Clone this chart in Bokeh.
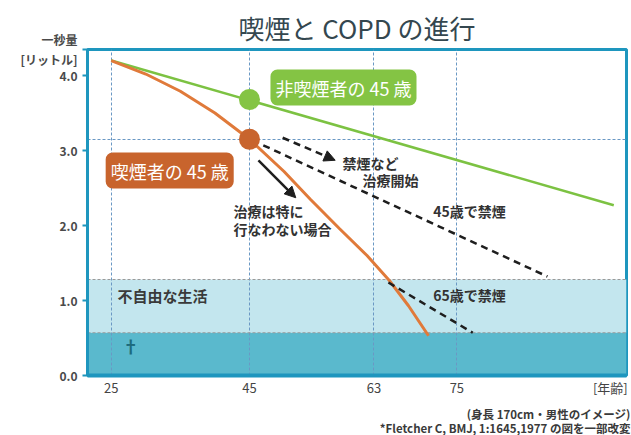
from bokeh.plotting import figure
from bokeh.models import (Label, Span, BoxAnnotation, Arrow, NormalHead,
                          FixedTicker, Range1d, Title)
from bokeh.embed import file_html
from bokeh.resources import INLINE

# ---------------- data ----------------
title_text = "喫煙と COPD の進行"
y_header = "一秒量\n[リットル]"
x_ticks = [25, 45, 63, 75]
x_tick_labels = ["25", "45", "63", "75"]
x_unit_label = "[年齢]"
y_ticks = [0, 1, 2, 3, 4]
y_tick_labels = ["0.0", "1.0", "2.0", "3.0", "4.0"]
notes_below = ["(身長 170cm・男性のイメージ)",
               "*Fletcher C, BMJ, 1:1645,1977 の図を一部改変"]

nonsmoker_age = [25, 97.7]
nonsmoker_fev1 = [4.2, 2.27]

smoker_age = [25, 30, 35, 40, 45, 50, 53.8, 58, 62, 65.2, 68, 70.9]
smoker_fev1 = [4.2, 4.02, 3.79, 3.5, 3.15, 2.72, 2.35, 1.96, 1.6, 1.27, 0.93, 0.53]

quit45_age = [47.0, 88.1]
quit45_fev1 = [3.07, 1.32]
quit65_age = [65.1, 77.3]
quit65_fev1 = [1.24, 0.57]

marker_age = [45, 45]
marker_fev1 = [3.68, 3.15]
marker_labels = ["非喫煙者の 45 歳", "喫煙者の 45 歳"]

disabled_level = 1.28   # 不自由な生活
death_level = 0.57      # †
smoker45_level = 3.15

FONT = "Noto Sans CJK JP"
TEAL = "#1e96be"
GREEN = "#7cc242"
GREEN_BOX = "#84c444"
ORANGE = "#e07a3a"
ORANGE_DARK = "#c8642d"
DARK = "#333333"
DASH_BLACK = "#1e1e1e"

Y_TOP = 4.347
p = figure(width=631, height=435, output_backend="svg", toolbar_location=None,
           x_range=Range1d(21.57, 99.54), y_range=Range1d(0, Y_TOP),
           min_border_left=87, min_border_top=49, min_border_right=5,
           min_border_bottom=60)
p.background_fill_color = "white"
p.border_fill_color = "white"
p.outline_line_color = TEAL
p.outline_line_width = 3

# title
p.title.text = title_text
p.title.align = "center"
p.title.text_font = FONT
p.title.text_font_size = "26px"
p.title.text_font_style = "normal"
p.title.text_color = "#34474f"
p.title.standoff = 7

# bands
p.add_layout(BoxAnnotation(bottom=death_level, top=disabled_level,
                           fill_color="#c3e6ee", fill_alpha=1, line_alpha=0,
                           level="image"))
p.add_layout(BoxAnnotation(bottom=0, top=death_level,
                           fill_color="#5ab9cd", fill_alpha=1, line_alpha=0,
                           level="image"))

# grids
p.xgrid.ticker = FixedTicker(ticks=x_ticks)
p.xgrid.grid_line_color = "#6a98c4"
p.xgrid.grid_line_dash = "3 2"
p.xgrid.grid_line_width = 1
p.ygrid.ticker = FixedTicker(ticks=[smoker45_level])
p.ygrid.grid_line_color = "#6a98c4"
p.ygrid.grid_line_dash = "3 2"
p.ygrid.grid_line_width = 1
for lvl in (disabled_level, death_level):
    p.add_layout(Span(location=lvl, dimension="width", line_color="#9a9a9a",
                      line_dash="3 2", line_width=1, level="underlay"))

# axes
x_unit_pos = 97.2
p.xaxis.ticker = FixedTicker(ticks=x_ticks + [x_unit_pos])
xl = {t: l for t, l in zip(x_ticks, x_tick_labels)}
xl[x_unit_pos] = x_unit_label
p.xaxis.major_label_overrides = xl
p.xaxis.axis_line_color = TEAL
p.xaxis.axis_line_width = 4
p.xaxis.major_tick_out = 0
p.xaxis.major_tick_in = 0
p.xaxis.minor_tick_line_color = None
p.xaxis.major_label_standoff = 2
p.xaxis.major_label_text_font = FONT
p.xaxis.major_label_text_font_size = "13px"
p.xaxis.major_label_text_color = "#444444"

y_header_pos = Y_TOP
p.yaxis.ticker = FixedTicker(ticks=y_ticks + [y_header_pos])
yl = {t: l for t, l in zip(y_ticks, y_tick_labels)}
yl[y_header_pos] = y_header
p.yaxis.major_label_overrides = yl
p.yaxis.axis_line_color = TEAL
p.yaxis.axis_line_width = 3
p.yaxis.major_tick_line_color = TEAL
p.yaxis.major_tick_line_width = 2
p.yaxis.major_tick_out = 5
p.yaxis.major_tick_in = 0
p.yaxis.minor_tick_line_color = None
p.yaxis.major_label_standoff = 5
p.yaxis.major_label_text_font = FONT
p.yaxis.major_label_text_font_size = "12px"
p.yaxis.major_label_text_font_style = "bold"
p.yaxis.major_label_text_color = "#4a4a4a"

# notes below (two right-aligned lines)
for txt, so in zip(notes_below, (8, -20)):
    p.add_layout(Title(text=txt, align="right", offset=-4, text_font=FONT,
                       text_font_size="11.5px", text_font_style="bold",
                       text_color="#3a3a3a", standoff=so), "below")

# lines
p.line(nonsmoker_age, nonsmoker_fev1, line_color=GREEN, line_width=2.5)
p.line(smoker_age, smoker_fev1, line_color=ORANGE, line_width=3)
p.line(quit45_age, quit45_fev1, line_color=DASH_BLACK, line_width=2.5, line_dash="7 5")
p.line(quit65_age, quit65_fev1, line_color=DASH_BLACK, line_width=2.5, line_dash="7 5")

# arrows
p.add_layout(Arrow(end=NormalHead(size=11, fill_color=DASH_BLACK, line_color=DASH_BLACK),
                   x_start=49.8, y_start=3.17, x_end=57.4, y_end=2.87,
                   line_color=DASH_BLACK, line_width=2.5, line_dash="7 5"))
p.add_layout(Arrow(end=NormalHead(size=11, fill_color=DASH_BLACK, line_color=DASH_BLACK),
                   x_start=46.3, y_start=2.87, x_end=51.7, y_end=2.37,
                   line_color=DASH_BLACK, line_width=2.5))

# markers
p.scatter(marker_age, marker_fev1, size=21, color=[GREEN_BOX, ORANGE_DARK], line_color=None)

# box labels
p.add_layout(Label(x=58.6, y=3.84, text=marker_labels[0], text_align="center",
                   text_baseline="middle", text_font=FONT, text_font_size="18px",
                   text_color="white", background_fill_color=GREEN_BOX,
                   background_fill_alpha=1, padding=5, border_radius=7))
p.add_layout(Label(x=33.46, y=2.733, text=marker_labels[1], text_align="center",
                   text_baseline="middle", text_font=FONT, text_font_size="18px",
                   text_color="white", background_fill_color=ORANGE_DARK,
                   background_fill_alpha=1, padding=5, border_radius=7))

def note(x, y, text, size="14px", align="left", color=DARK, style="bold"):
    p.add_layout(Label(x=x, y=y, text=text, text_align=align, text_baseline="middle",
                       text_font=FONT, text_font_size=size, text_color=color,
                       text_font_style=style))

note(58.45, 2.84, "禁煙など")
note(61.35, 2.613, "治療開始")
note(71.6, 2.2, "45歳で禁煙")
note(42.69, 2.2, "治療は特に")
note(42.69, 1.947, "行なわない場合")
note(71.6, 1.08, "65歳で禁煙")
note(25.9, 1.067, "不自由な生活", size="15px", color="#3a3a3a")
note(26.6, 0.4, "†", size="17px", color="#1d6b7d")

open("out.html", "w").write(file_html(p, INLINE))
